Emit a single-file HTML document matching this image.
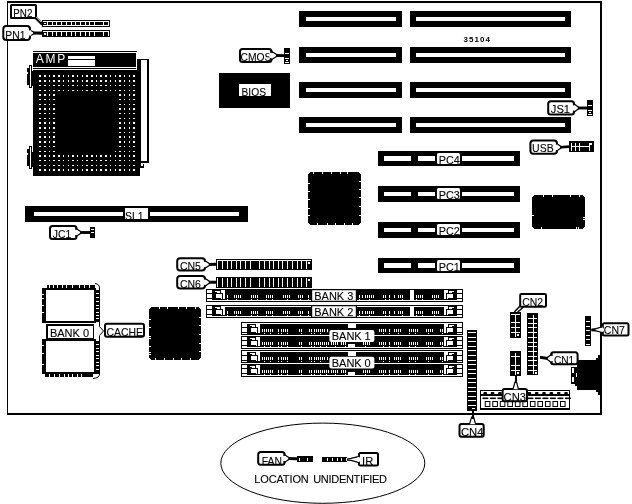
<!DOCTYPE html>
<html><head><meta charset="utf-8"><title>35104 motherboard layout</title>
<style>
html,body{margin:0;padding:0;background:#fff;}
body{width:632px;height:504px;overflow:hidden;}
svg{display:block;will-change:transform;filter:grayscale(1);font-family:"Liberation Sans",sans-serif;}
</style></head><body>
<svg width="632" height="504" viewBox="0 0 632 504" shape-rendering="crispEdges">
<rect x="0" y="0" width="632" height="504" fill="#fff"/>
<rect x="7" y="1" width="595" height="414" fill="#000" />
<rect x="8" y="3" width="592" height="410" fill="#fff" />
<rect x="299" y="11" width="103" height="16" fill="#000" />
<rect x="306" y="17" width="90" height="4" fill="#fff" />
<rect x="410" y="11" width="161" height="16" fill="#000" />
<rect x="416" y="17" width="149" height="4" fill="#fff" />
<rect x="299" y="47" width="103" height="16" fill="#000" />
<rect x="306" y="53" width="90" height="4" fill="#fff" />
<rect x="410" y="47" width="161" height="16" fill="#000" />
<rect x="416" y="53" width="149" height="4" fill="#fff" />
<rect x="299" y="82" width="103" height="16" fill="#000" />
<rect x="306" y="88" width="90" height="4" fill="#fff" />
<rect x="410" y="82" width="161" height="16" fill="#000" />
<rect x="416" y="88" width="149" height="4" fill="#fff" />
<rect x="299" y="117" width="103" height="16" fill="#000" />
<rect x="306" y="123" width="90" height="4" fill="#fff" />
<rect x="410" y="117" width="161" height="16" fill="#000" />
<rect x="416" y="123" width="149" height="4" fill="#fff" />
<rect x="378" y="151" width="142" height="15" fill="#000" />
<rect x="384" y="156" width="27" height="5" fill="#fff" />
<rect x="418" y="156" width="17" height="5" fill="#fff" />
<rect x="462" y="156" width="52" height="5" fill="#fff" />
<rect x="437" y="153" width="23" height="11" rx="1.5" fill="#fff" shape-rendering="geometricPrecision"/>
<text x="438.7" y="164.2" font-size="11" fill="#000" text-anchor="start" textLength="21" lengthAdjust="spacingAndGlyphs" stroke="#000" stroke-width="0.1" >PC4</text>
<rect x="437" y="164" width="23" height="2" fill="#000" />
<rect x="378" y="186" width="142" height="16" fill="#000" />
<rect x="384" y="192" width="27" height="4" fill="#fff" />
<rect x="418" y="192" width="17" height="4" fill="#fff" />
<rect x="462" y="192" width="52" height="4" fill="#fff" />
<rect x="437" y="188" width="23" height="11" rx="1.5" fill="#fff" shape-rendering="geometricPrecision"/>
<text x="438.7" y="199.2" font-size="11" fill="#000" text-anchor="start" textLength="21" lengthAdjust="spacingAndGlyphs" stroke="#000" stroke-width="0.1" >PC3</text>
<rect x="437" y="199" width="23" height="3" fill="#000" />
<rect x="378" y="222" width="142" height="16" fill="#000" />
<rect x="384" y="228" width="27" height="4" fill="#fff" />
<rect x="418" y="228" width="17" height="4" fill="#fff" />
<rect x="462" y="228" width="52" height="4" fill="#fff" />
<rect x="437" y="224" width="23" height="11" rx="1.5" fill="#fff" shape-rendering="geometricPrecision"/>
<text x="438.7" y="235.2" font-size="11" fill="#000" text-anchor="start" textLength="21" lengthAdjust="spacingAndGlyphs" stroke="#000" stroke-width="0.1" >PC2</text>
<rect x="437" y="235" width="23" height="3" fill="#000" />
<rect x="378" y="258" width="142" height="15" fill="#000" />
<rect x="384" y="263" width="27" height="5" fill="#fff" />
<rect x="418" y="263" width="17" height="5" fill="#fff" />
<rect x="462" y="263" width="52" height="5" fill="#fff" />
<rect x="437" y="260" width="23" height="11" rx="1.5" fill="#fff" shape-rendering="geometricPrecision"/>
<text x="438.7" y="271.2" font-size="11" fill="#000" text-anchor="start" textLength="21" lengthAdjust="spacingAndGlyphs" stroke="#000" stroke-width="0.1" >PC1</text>
<rect x="437" y="271" width="23" height="2" fill="#000" />
<rect x="25" y="206" width="223" height="16" fill="#000" />
<rect x="34" y="211.5" width="89" height="4.5" fill="#fff" />
<rect x="150" y="211.5" width="89" height="4.5" fill="#fff" />
<rect x="124.5" y="208" width="23" height="10.7" fill="#fff" />
<text x="125" y="219.8" font-size="11" fill="#000" text-anchor="start" textLength="18.5" lengthAdjust="spacingAndGlyphs" stroke="#000" stroke-width="0.1" >SL1</text>
<rect x="124" y="218.7" width="24" height="3.3" fill="#000" />
<rect x="310" y="172" width="49" height="53" fill="#000" />
<rect x="308" y="174" width="53" height="49" fill="#000" />
<rect x="309" y="173" width="51" height="51" fill="#000" />
<rect x="313" y="172" width="1" height="2" fill="#fff" />
<rect x="322" y="172" width="1" height="2" fill="#fff" />
<rect x="331" y="172" width="1" height="2" fill="#fff" />
<rect x="340" y="172" width="1" height="2" fill="#fff" />
<rect x="347" y="172" width="1" height="2" fill="#fff" />
<rect x="317" y="223" width="1" height="2" fill="#fff" />
<rect x="327" y="223" width="1" height="2" fill="#fff" />
<rect x="335" y="223" width="1" height="2" fill="#fff" />
<rect x="344" y="223" width="1" height="2" fill="#fff" />
<rect x="352" y="223" width="1" height="2" fill="#fff" />
<rect x="308" y="183" width="2" height="1" fill="#fff" />
<rect x="308" y="191" width="2" height="1" fill="#fff" />
<rect x="308" y="199" width="2" height="1" fill="#fff" />
<rect x="308" y="208" width="2" height="1" fill="#fff" />
<rect x="308" y="215" width="2" height="1" fill="#fff" />
<rect x="359" y="181" width="2" height="1" fill="#fff" />
<rect x="359" y="189" width="2" height="1" fill="#fff" />
<rect x="359" y="197" width="2" height="1" fill="#fff" />
<rect x="359" y="206" width="2" height="1" fill="#fff" />
<rect x="359" y="215" width="2" height="1" fill="#fff" />
<rect x="534" y="195" width="49" height="34" fill="#000" />
<rect x="532" y="197" width="53" height="30" fill="#000" />
<rect x="533" y="196" width="51" height="32" fill="#000" />
<rect x="543" y="195" width="1" height="2" fill="#fff" />
<rect x="552" y="195" width="1" height="2" fill="#fff" />
<rect x="570" y="195" width="1" height="2" fill="#fff" />
<rect x="579" y="195" width="1" height="2" fill="#fff" />
<rect x="541" y="227" width="1" height="2" fill="#fff" />
<rect x="576" y="227" width="1" height="2" fill="#fff" />
<rect x="578" y="227" width="1" height="2" fill="#fff" />
<rect x="532" y="215" width="2" height="1" fill="#fff" />
<rect x="583" y="217" width="2" height="1" fill="#fff" />
<rect x="583" y="219" width="2" height="1" fill="#fff" />
<rect x="151" y="307" width="48" height="53" fill="#000" />
<rect x="149" y="309" width="52" height="49" fill="#000" />
<rect x="150" y="308" width="50" height="51" fill="#000" />
<rect x="159" y="307" width="1" height="2" fill="#fff" />
<rect x="167" y="307" width="1" height="2" fill="#fff" />
<rect x="178" y="307" width="1" height="2" fill="#fff" />
<rect x="186" y="307" width="1" height="2" fill="#fff" />
<rect x="195" y="307" width="1" height="2" fill="#fff" />
<rect x="155" y="358" width="1" height="2" fill="#fff" />
<rect x="164" y="358" width="1" height="2" fill="#fff" />
<rect x="173" y="358" width="1" height="2" fill="#fff" />
<rect x="181" y="358" width="1" height="2" fill="#fff" />
<rect x="190" y="358" width="1" height="2" fill="#fff" />
<rect x="149" y="319" width="2" height="1" fill="#fff" />
<rect x="149" y="327" width="2" height="1" fill="#fff" />
<rect x="149" y="336" width="2" height="1" fill="#fff" />
<rect x="149" y="338" width="2" height="1" fill="#fff" />
<rect x="149" y="346" width="2" height="1" fill="#fff" />
<rect x="149" y="352" width="2" height="1" fill="#fff" />
<rect x="149" y="354" width="2" height="1" fill="#fff" />
<rect x="199" y="317" width="2" height="1" fill="#fff" />
<rect x="199" y="325" width="2" height="1" fill="#fff" />
<rect x="199" y="334" width="2" height="1" fill="#fff" />
<rect x="199" y="343" width="2" height="1" fill="#fff" />
<rect x="199" y="351" width="2" height="1" fill="#fff" />
<rect x="219" y="73" width="71" height="35" fill="#000" />
<rect x="239" y="84" width="32" height="12.2" fill="#fff" />
<text x="241.5" y="96.4" font-size="11" fill="#000" text-anchor="start" textLength="24.5" lengthAdjust="spacingAndGlyphs" stroke="#000" stroke-width="0.1" >BIOS</text>
<rect x="239" y="96.2" width="32" height="2.8" fill="#000" />
<rect x="33" y="51" width="104" height="1" fill="#000" />
<rect x="33" y="53" width="103" height="13.5" fill="#000" />
<rect x="33" y="67.5" width="103" height="1.5" fill="#000" />
<rect x="33" y="70" width="107" height="105.5" fill="#000" />
<rect x="137" y="59" width="12" height="104" fill="#000" />
<rect x="141" y="60" width="6" height="101" fill="#fff" />
<rect x="140" y="163" width="5" height="5" fill="#000" />
<rect x="141" y="163" width="2" height="3" fill="#fff" />
<rect x="143" y="163" width="2" height="1" fill="#fff" />
<rect x="144" y="164" width="1" height="4" fill="#fff" />
<text x="35.8" y="63.2" font-size="12" fill="#fff" text-anchor="start" textLength="29.4" lengthAdjust="spacing">AMP</text>
<rect x="68" y="56" width="26.5" height="2.75" fill="#fff" />
<rect x="68" y="60" width="27" height="5.5" fill="#fff" />
<rect x="39" y="75" width="2" height="2" fill="#fff" />
<rect x="39" y="80" width="2" height="2" fill="#fff" />
<rect x="39" y="85" width="2" height="1" fill="#fff" />
<rect x="39" y="90" width="2" height="1" fill="#fff" />
<rect x="39" y="94" width="2" height="2" fill="#fff" />
<rect x="39" y="99" width="2" height="1" fill="#fff" />
<rect x="39" y="104" width="2" height="1" fill="#fff" />
<rect x="39" y="108" width="2" height="2" fill="#fff" />
<rect x="39" y="113" width="2" height="1" fill="#fff" />
<rect x="39" y="118" width="2" height="1" fill="#fff" />
<rect x="39" y="122" width="2" height="2" fill="#fff" />
<rect x="39" y="127" width="2" height="2" fill="#fff" />
<rect x="39" y="132" width="2" height="1" fill="#fff" />
<rect x="39" y="136" width="2" height="2" fill="#fff" />
<rect x="39" y="141" width="2" height="2" fill="#fff" />
<rect x="39" y="146" width="2" height="1" fill="#fff" />
<rect x="39" y="151" width="2" height="1" fill="#fff" />
<rect x="39" y="155" width="2" height="2" fill="#fff" />
<rect x="39" y="160" width="2" height="1" fill="#fff" />
<rect x="39" y="165" width="2" height="1" fill="#fff" />
<rect x="39" y="169" width="2" height="2" fill="#fff" />
<rect x="44" y="75" width="2" height="2" fill="#fff" />
<rect x="44" y="80" width="2" height="2" fill="#fff" />
<rect x="44" y="85" width="2" height="1" fill="#fff" />
<rect x="44" y="90" width="2" height="1" fill="#fff" />
<rect x="44" y="94" width="2" height="2" fill="#fff" />
<rect x="44" y="99" width="2" height="1" fill="#fff" />
<rect x="44" y="104" width="2" height="1" fill="#fff" />
<rect x="44" y="108" width="2" height="2" fill="#fff" />
<rect x="44" y="113" width="2" height="1" fill="#fff" />
<rect x="44" y="118" width="2" height="1" fill="#fff" />
<rect x="44" y="122" width="2" height="2" fill="#fff" />
<rect x="44" y="127" width="2" height="2" fill="#fff" />
<rect x="44" y="132" width="2" height="1" fill="#fff" />
<rect x="44" y="136" width="2" height="2" fill="#fff" />
<rect x="44" y="141" width="2" height="2" fill="#fff" />
<rect x="44" y="146" width="2" height="1" fill="#fff" />
<rect x="44" y="151" width="2" height="1" fill="#fff" />
<rect x="44" y="155" width="2" height="2" fill="#fff" />
<rect x="44" y="160" width="2" height="1" fill="#fff" />
<rect x="44" y="165" width="2" height="1" fill="#fff" />
<rect x="44" y="169" width="2" height="2" fill="#fff" />
<rect x="49" y="75" width="1" height="2" fill="#fff" />
<rect x="49" y="80" width="1" height="2" fill="#fff" />
<rect x="49" y="85" width="1" height="1" fill="#fff" />
<rect x="49" y="90" width="1" height="1" fill="#fff" />
<rect x="49" y="94" width="1" height="2" fill="#fff" />
<rect x="49" y="99" width="1" height="1" fill="#fff" />
<rect x="49" y="104" width="1" height="1" fill="#fff" />
<rect x="49" y="108" width="1" height="2" fill="#fff" />
<rect x="49" y="113" width="1" height="1" fill="#fff" />
<rect x="49" y="118" width="1" height="1" fill="#fff" />
<rect x="49" y="122" width="1" height="2" fill="#fff" />
<rect x="49" y="127" width="1" height="2" fill="#fff" />
<rect x="49" y="132" width="1" height="1" fill="#fff" />
<rect x="49" y="136" width="1" height="2" fill="#fff" />
<rect x="49" y="141" width="1" height="2" fill="#fff" />
<rect x="49" y="146" width="1" height="1" fill="#fff" />
<rect x="49" y="151" width="1" height="1" fill="#fff" />
<rect x="49" y="155" width="1" height="2" fill="#fff" />
<rect x="49" y="160" width="1" height="1" fill="#fff" />
<rect x="49" y="165" width="1" height="1" fill="#fff" />
<rect x="49" y="169" width="1" height="2" fill="#fff" />
<rect x="53" y="75" width="2" height="2" fill="#fff" />
<rect x="53" y="80" width="2" height="2" fill="#fff" />
<rect x="53" y="85" width="2" height="1" fill="#fff" />
<rect x="53" y="90" width="2" height="1" fill="#fff" />
<rect x="53" y="94" width="2" height="2" fill="#fff" />
<rect x="53" y="99" width="2" height="1" fill="#fff" />
<rect x="53" y="104" width="2" height="1" fill="#fff" />
<rect x="53" y="108" width="2" height="2" fill="#fff" />
<rect x="53" y="113" width="2" height="1" fill="#fff" />
<rect x="53" y="118" width="2" height="1" fill="#fff" />
<rect x="53" y="122" width="2" height="2" fill="#fff" />
<rect x="53" y="127" width="2" height="2" fill="#fff" />
<rect x="53" y="132" width="2" height="1" fill="#fff" />
<rect x="53" y="136" width="2" height="2" fill="#fff" />
<rect x="53" y="141" width="2" height="2" fill="#fff" />
<rect x="53" y="146" width="2" height="1" fill="#fff" />
<rect x="53" y="151" width="2" height="1" fill="#fff" />
<rect x="53" y="155" width="2" height="2" fill="#fff" />
<rect x="53" y="160" width="2" height="1" fill="#fff" />
<rect x="53" y="165" width="2" height="1" fill="#fff" />
<rect x="53" y="169" width="2" height="2" fill="#fff" />
<rect x="58" y="75" width="2" height="2" fill="#fff" />
<rect x="58" y="80" width="2" height="2" fill="#fff" />
<rect x="58" y="85" width="2" height="1" fill="#fff" />
<rect x="58" y="90" width="2" height="1" fill="#fff" />
<rect x="58" y="155" width="2" height="2" fill="#fff" />
<rect x="58" y="160" width="2" height="1" fill="#fff" />
<rect x="58" y="165" width="2" height="1" fill="#fff" />
<rect x="58" y="169" width="2" height="2" fill="#fff" />
<rect x="63" y="75" width="1" height="2" fill="#fff" />
<rect x="63" y="80" width="1" height="2" fill="#fff" />
<rect x="63" y="85" width="1" height="1" fill="#fff" />
<rect x="63" y="90" width="1" height="1" fill="#fff" />
<rect x="63" y="155" width="1" height="2" fill="#fff" />
<rect x="63" y="160" width="1" height="1" fill="#fff" />
<rect x="63" y="165" width="1" height="1" fill="#fff" />
<rect x="63" y="169" width="1" height="2" fill="#fff" />
<rect x="68" y="75" width="1" height="2" fill="#fff" />
<rect x="68" y="80" width="1" height="2" fill="#fff" />
<rect x="68" y="85" width="1" height="1" fill="#fff" />
<rect x="68" y="90" width="1" height="1" fill="#fff" />
<rect x="68" y="155" width="1" height="2" fill="#fff" />
<rect x="68" y="160" width="1" height="1" fill="#fff" />
<rect x="68" y="165" width="1" height="1" fill="#fff" />
<rect x="68" y="169" width="1" height="2" fill="#fff" />
<rect x="72" y="75" width="2" height="2" fill="#fff" />
<rect x="72" y="80" width="2" height="2" fill="#fff" />
<rect x="72" y="85" width="2" height="1" fill="#fff" />
<rect x="72" y="90" width="2" height="1" fill="#fff" />
<rect x="72" y="155" width="2" height="2" fill="#fff" />
<rect x="72" y="160" width="2" height="1" fill="#fff" />
<rect x="72" y="165" width="2" height="1" fill="#fff" />
<rect x="72" y="169" width="2" height="2" fill="#fff" />
<rect x="77" y="75" width="1" height="2" fill="#fff" />
<rect x="77" y="80" width="1" height="2" fill="#fff" />
<rect x="77" y="85" width="1" height="1" fill="#fff" />
<rect x="77" y="90" width="1" height="1" fill="#fff" />
<rect x="77" y="155" width="1" height="2" fill="#fff" />
<rect x="77" y="160" width="1" height="1" fill="#fff" />
<rect x="77" y="165" width="1" height="1" fill="#fff" />
<rect x="77" y="169" width="1" height="2" fill="#fff" />
<rect x="82" y="75" width="1" height="2" fill="#fff" />
<rect x="82" y="80" width="1" height="2" fill="#fff" />
<rect x="82" y="85" width="1" height="1" fill="#fff" />
<rect x="82" y="90" width="1" height="1" fill="#fff" />
<rect x="82" y="155" width="1" height="2" fill="#fff" />
<rect x="82" y="160" width="1" height="1" fill="#fff" />
<rect x="82" y="165" width="1" height="1" fill="#fff" />
<rect x="82" y="169" width="1" height="2" fill="#fff" />
<rect x="86" y="75" width="2" height="2" fill="#fff" />
<rect x="86" y="80" width="2" height="2" fill="#fff" />
<rect x="86" y="85" width="2" height="1" fill="#fff" />
<rect x="86" y="90" width="2" height="1" fill="#fff" />
<rect x="86" y="155" width="2" height="2" fill="#fff" />
<rect x="86" y="160" width="2" height="1" fill="#fff" />
<rect x="86" y="165" width="2" height="1" fill="#fff" />
<rect x="86" y="169" width="2" height="2" fill="#fff" />
<rect x="91" y="75" width="2" height="2" fill="#fff" />
<rect x="91" y="80" width="2" height="2" fill="#fff" />
<rect x="91" y="85" width="2" height="1" fill="#fff" />
<rect x="91" y="90" width="2" height="1" fill="#fff" />
<rect x="91" y="155" width="2" height="2" fill="#fff" />
<rect x="91" y="160" width="2" height="1" fill="#fff" />
<rect x="91" y="165" width="2" height="1" fill="#fff" />
<rect x="91" y="169" width="2" height="2" fill="#fff" />
<rect x="96" y="75" width="1" height="2" fill="#fff" />
<rect x="96" y="80" width="1" height="2" fill="#fff" />
<rect x="96" y="85" width="1" height="1" fill="#fff" />
<rect x="96" y="90" width="1" height="1" fill="#fff" />
<rect x="96" y="155" width="1" height="2" fill="#fff" />
<rect x="96" y="160" width="1" height="1" fill="#fff" />
<rect x="96" y="165" width="1" height="1" fill="#fff" />
<rect x="96" y="169" width="1" height="2" fill="#fff" />
<rect x="100" y="75" width="2" height="2" fill="#fff" />
<rect x="100" y="80" width="2" height="2" fill="#fff" />
<rect x="100" y="85" width="2" height="1" fill="#fff" />
<rect x="100" y="90" width="2" height="1" fill="#fff" />
<rect x="100" y="155" width="2" height="2" fill="#fff" />
<rect x="100" y="160" width="2" height="1" fill="#fff" />
<rect x="100" y="165" width="2" height="1" fill="#fff" />
<rect x="100" y="169" width="2" height="2" fill="#fff" />
<rect x="105" y="75" width="2" height="2" fill="#fff" />
<rect x="105" y="80" width="2" height="2" fill="#fff" />
<rect x="105" y="85" width="2" height="1" fill="#fff" />
<rect x="105" y="90" width="2" height="1" fill="#fff" />
<rect x="105" y="155" width="2" height="2" fill="#fff" />
<rect x="105" y="160" width="2" height="1" fill="#fff" />
<rect x="105" y="165" width="2" height="1" fill="#fff" />
<rect x="105" y="169" width="2" height="2" fill="#fff" />
<rect x="110" y="75" width="1" height="2" fill="#fff" />
<rect x="110" y="80" width="1" height="2" fill="#fff" />
<rect x="110" y="85" width="1" height="1" fill="#fff" />
<rect x="110" y="90" width="1" height="1" fill="#fff" />
<rect x="110" y="155" width="1" height="2" fill="#fff" />
<rect x="110" y="160" width="1" height="1" fill="#fff" />
<rect x="110" y="165" width="1" height="1" fill="#fff" />
<rect x="110" y="169" width="1" height="2" fill="#fff" />
<rect x="115" y="75" width="1" height="2" fill="#fff" />
<rect x="115" y="80" width="1" height="2" fill="#fff" />
<rect x="115" y="85" width="1" height="1" fill="#fff" />
<rect x="115" y="90" width="1" height="1" fill="#fff" />
<rect x="115" y="151" width="1" height="1" fill="#fff" />
<rect x="115" y="155" width="1" height="2" fill="#fff" />
<rect x="115" y="160" width="1" height="1" fill="#fff" />
<rect x="115" y="165" width="1" height="1" fill="#fff" />
<rect x="115" y="169" width="1" height="2" fill="#fff" />
<rect x="119" y="75" width="2" height="2" fill="#fff" />
<rect x="119" y="80" width="2" height="2" fill="#fff" />
<rect x="119" y="85" width="2" height="1" fill="#fff" />
<rect x="119" y="90" width="2" height="1" fill="#fff" />
<rect x="119" y="94" width="2" height="2" fill="#fff" />
<rect x="119" y="99" width="2" height="1" fill="#fff" />
<rect x="119" y="104" width="2" height="1" fill="#fff" />
<rect x="119" y="108" width="2" height="2" fill="#fff" />
<rect x="119" y="113" width="2" height="1" fill="#fff" />
<rect x="119" y="118" width="2" height="1" fill="#fff" />
<rect x="119" y="122" width="2" height="2" fill="#fff" />
<rect x="119" y="127" width="2" height="2" fill="#fff" />
<rect x="119" y="132" width="2" height="1" fill="#fff" />
<rect x="119" y="136" width="2" height="2" fill="#fff" />
<rect x="119" y="141" width="2" height="2" fill="#fff" />
<rect x="119" y="146" width="2" height="1" fill="#fff" />
<rect x="119" y="151" width="2" height="1" fill="#fff" />
<rect x="119" y="155" width="2" height="2" fill="#fff" />
<rect x="119" y="160" width="2" height="1" fill="#fff" />
<rect x="119" y="165" width="2" height="1" fill="#fff" />
<rect x="119" y="169" width="2" height="2" fill="#fff" />
<rect x="124" y="75" width="1" height="2" fill="#fff" />
<rect x="124" y="80" width="1" height="2" fill="#fff" />
<rect x="124" y="85" width="1" height="1" fill="#fff" />
<rect x="124" y="90" width="1" height="1" fill="#fff" />
<rect x="124" y="94" width="1" height="2" fill="#fff" />
<rect x="124" y="99" width="1" height="1" fill="#fff" />
<rect x="124" y="104" width="1" height="1" fill="#fff" />
<rect x="124" y="108" width="1" height="2" fill="#fff" />
<rect x="124" y="113" width="1" height="1" fill="#fff" />
<rect x="124" y="118" width="1" height="1" fill="#fff" />
<rect x="124" y="122" width="1" height="2" fill="#fff" />
<rect x="124" y="127" width="1" height="2" fill="#fff" />
<rect x="124" y="132" width="1" height="1" fill="#fff" />
<rect x="124" y="136" width="1" height="2" fill="#fff" />
<rect x="124" y="141" width="1" height="2" fill="#fff" />
<rect x="124" y="146" width="1" height="1" fill="#fff" />
<rect x="124" y="151" width="1" height="1" fill="#fff" />
<rect x="124" y="155" width="1" height="2" fill="#fff" />
<rect x="124" y="160" width="1" height="1" fill="#fff" />
<rect x="124" y="165" width="1" height="1" fill="#fff" />
<rect x="124" y="169" width="1" height="2" fill="#fff" />
<rect x="129" y="75" width="1" height="2" fill="#fff" />
<rect x="129" y="80" width="1" height="2" fill="#fff" />
<rect x="129" y="85" width="1" height="1" fill="#fff" />
<rect x="129" y="90" width="1" height="1" fill="#fff" />
<rect x="129" y="94" width="1" height="2" fill="#fff" />
<rect x="129" y="99" width="1" height="1" fill="#fff" />
<rect x="129" y="104" width="1" height="1" fill="#fff" />
<rect x="129" y="108" width="1" height="2" fill="#fff" />
<rect x="129" y="113" width="1" height="1" fill="#fff" />
<rect x="129" y="118" width="1" height="1" fill="#fff" />
<rect x="129" y="122" width="1" height="2" fill="#fff" />
<rect x="129" y="127" width="1" height="2" fill="#fff" />
<rect x="129" y="132" width="1" height="1" fill="#fff" />
<rect x="129" y="136" width="1" height="2" fill="#fff" />
<rect x="129" y="141" width="1" height="2" fill="#fff" />
<rect x="129" y="146" width="1" height="1" fill="#fff" />
<rect x="129" y="151" width="1" height="1" fill="#fff" />
<rect x="129" y="155" width="1" height="2" fill="#fff" />
<rect x="129" y="160" width="1" height="1" fill="#fff" />
<rect x="129" y="165" width="1" height="1" fill="#fff" />
<rect x="129" y="169" width="1" height="2" fill="#fff" />
<rect x="133" y="75" width="2" height="2" fill="#fff" />
<rect x="133" y="80" width="2" height="2" fill="#fff" />
<rect x="133" y="85" width="2" height="1" fill="#fff" />
<rect x="133" y="90" width="2" height="1" fill="#fff" />
<rect x="133" y="94" width="2" height="2" fill="#fff" />
<rect x="133" y="99" width="2" height="1" fill="#fff" />
<rect x="133" y="104" width="2" height="1" fill="#fff" />
<rect x="133" y="108" width="2" height="2" fill="#fff" />
<rect x="133" y="113" width="2" height="1" fill="#fff" />
<rect x="133" y="118" width="2" height="1" fill="#fff" />
<rect x="133" y="122" width="2" height="2" fill="#fff" />
<rect x="133" y="127" width="2" height="2" fill="#fff" />
<rect x="133" y="132" width="2" height="1" fill="#fff" />
<rect x="133" y="136" width="2" height="2" fill="#fff" />
<rect x="133" y="141" width="2" height="2" fill="#fff" />
<rect x="133" y="146" width="2" height="1" fill="#fff" />
<rect x="133" y="151" width="2" height="1" fill="#fff" />
<rect x="133" y="155" width="2" height="2" fill="#fff" />
<rect x="133" y="160" width="2" height="1" fill="#fff" />
<rect x="133" y="165" width="2" height="1" fill="#fff" />
<rect x="133" y="169" width="2" height="2" fill="#fff" />
<rect x="29" y="65" width="3" height="23" fill="#000" />
<rect x="30" y="66" width="1" height="21" fill="#fff" />
<rect x="27" y="68" width="2" height="17" fill="#000" />
<rect x="27" y="72" width="1" height="2" fill="#fff" />
<rect x="32" y="71" width="1" height="15" fill="#000" />
<rect x="29" y="146" width="3" height="23" fill="#000" />
<rect x="30" y="147" width="1" height="21" fill="#fff" />
<rect x="27" y="149" width="2" height="17" fill="#000" />
<rect x="27" y="153" width="1" height="2" fill="#fff" />
<rect x="32" y="152" width="1" height="15" fill="#000" />
<rect x="42" y="20" width="68" height="7" fill="#000" />
<rect x="43" y="21" width="66" height="5" fill="#fff" />
<rect x="43" y="22" width="66" height="3" fill="#000" />
<rect x="42" y="30" width="68" height="7" fill="#000" />
<rect x="43" y="31" width="66" height="1" fill="#fff" />
<rect x="47" y="21" width="1" height="5" fill="#fff" />
<rect x="47" y="31" width="1" height="5" fill="#fff" />
<rect x="51.7" y="21" width="1" height="5" fill="#fff" />
<rect x="51.7" y="31" width="1" height="5" fill="#fff" />
<rect x="56.4" y="21" width="1" height="5" fill="#fff" />
<rect x="56.4" y="31" width="1" height="5" fill="#fff" />
<rect x="61.1" y="21" width="1" height="5" fill="#fff" />
<rect x="61.1" y="31" width="1" height="5" fill="#fff" />
<rect x="65.8" y="21" width="1" height="5" fill="#fff" />
<rect x="65.8" y="31" width="1" height="5" fill="#fff" />
<rect x="70.5" y="21" width="1" height="5" fill="#fff" />
<rect x="70.5" y="31" width="1" height="5" fill="#fff" />
<rect x="75.2" y="21" width="1" height="5" fill="#fff" />
<rect x="75.2" y="31" width="1" height="5" fill="#fff" />
<rect x="79.9" y="21" width="1" height="5" fill="#fff" />
<rect x="79.9" y="31" width="1" height="5" fill="#fff" />
<rect x="84.6" y="21" width="1" height="5" fill="#fff" />
<rect x="84.6" y="31" width="1" height="5" fill="#fff" />
<rect x="89.3" y="21" width="1" height="5" fill="#fff" />
<rect x="89.3" y="31" width="1" height="5" fill="#fff" />
<rect x="94" y="21" width="1" height="5" fill="#fff" />
<rect x="94" y="31" width="1" height="5" fill="#fff" />
<rect x="103.4" y="21" width="1" height="5" fill="#fff" />
<rect x="103.4" y="31" width="1" height="5" fill="#fff" />
<rect x="108" y="21" width="1" height="5" fill="#fff" />
<rect x="108" y="31" width="1" height="5" fill="#fff" />
<rect x="44" y="23" width="2" height="1" fill="#fff" />
<rect x="44" y="33" width="2" height="2" fill="#fff" />
<rect x="11" y="5" width="25" height="13" rx="0.5" fill="#fff" stroke="#000" stroke-width="2" shape-rendering="geometricPrecision"/>
<text x="13.3" y="17" font-size="11" fill="#000" text-anchor="start" textLength="19.15" lengthAdjust="spacingAndGlyphs" stroke="#000" stroke-width="0.1" >PN2</text>
<path d="M35.5,17.5 L42.5,24.5" fill="none" stroke="#000" stroke-width="2.8" shape-rendering="geometricPrecision"/>
<path d="M35.8,16.8 L41,22" fill="none" stroke="#fff" stroke-width="0.7" shape-rendering="geometricPrecision"/>
<rect x="3.3" y="26" width="26.7" height="14" rx="3" fill="#fff" stroke="#000" stroke-width="2" shape-rendering="geometricPrecision"/>
<text x="5.3" y="39" font-size="11" fill="#000" text-anchor="start" textLength="20.1" lengthAdjust="spacingAndGlyphs" stroke="#000" stroke-width="0.1" >PN1</text>
<path d="M30,30.0 L34,32.2 L34,33.8 L30,36.0 Z" fill="#fff" stroke="#000" stroke-width="1.3" shape-rendering="geometricPrecision" stroke-linejoin="round"/>
<rect x="28.4" y="30.4" width="2.8" height="5.2" fill="#fff" shape-rendering="geometricPrecision"/>
<path d="M33.2,33.0 L42.5,33.1" fill="none" stroke="#000" stroke-width="3.2" shape-rendering="geometricPrecision"/>
<rect x="216" y="259" width="96" height="11" fill="#000" />
<rect x="217" y="260" width="94" height="1" fill="#fff" />
<rect x="216" y="277" width="96" height="11" fill="#000" />
<rect x="217" y="260" width="1" height="9" fill="#fff" />
<rect x="217" y="278" width="1" height="9" fill="#fff" />
<rect x="222" y="260" width="1" height="9" fill="#fff" />
<rect x="222" y="278" width="1" height="9" fill="#fff" />
<rect x="227" y="260" width="1" height="9" fill="#fff" />
<rect x="227" y="278" width="1" height="9" fill="#fff" />
<rect x="231" y="260" width="1" height="9" fill="#fff" />
<rect x="231" y="278" width="1" height="9" fill="#fff" />
<rect x="236" y="260" width="1" height="9" fill="#fff" />
<rect x="236" y="278" width="1" height="9" fill="#fff" />
<rect x="240" y="260" width="1" height="9" fill="#fff" />
<rect x="240" y="278" width="1" height="9" fill="#fff" />
<rect x="245" y="260" width="1" height="9" fill="#fff" />
<rect x="245" y="278" width="1" height="9" fill="#fff" />
<rect x="250" y="260" width="1" height="9" fill="#fff" />
<rect x="250" y="278" width="1" height="9" fill="#fff" />
<rect x="259" y="260" width="1" height="9" fill="#fff" />
<rect x="259" y="278" width="1" height="9" fill="#fff" />
<rect x="264" y="260" width="1" height="9" fill="#fff" />
<rect x="264" y="278" width="1" height="9" fill="#fff" />
<rect x="269" y="260" width="1" height="9" fill="#fff" />
<rect x="269" y="278" width="1" height="9" fill="#fff" />
<rect x="273" y="260" width="1" height="9" fill="#fff" />
<rect x="273" y="278" width="1" height="9" fill="#fff" />
<rect x="278" y="260" width="1" height="9" fill="#fff" />
<rect x="278" y="278" width="1" height="9" fill="#fff" />
<rect x="282" y="260" width="1" height="9" fill="#fff" />
<rect x="282" y="278" width="1" height="9" fill="#fff" />
<rect x="287" y="260" width="1" height="9" fill="#fff" />
<rect x="287" y="278" width="1" height="9" fill="#fff" />
<rect x="292" y="260" width="1" height="9" fill="#fff" />
<rect x="292" y="278" width="1" height="9" fill="#fff" />
<rect x="297" y="260" width="1" height="9" fill="#fff" />
<rect x="297" y="278" width="1" height="9" fill="#fff" />
<rect x="301" y="260" width="1" height="9" fill="#fff" />
<rect x="301" y="278" width="1" height="9" fill="#fff" />
<rect x="306" y="260" width="1" height="9" fill="#fff" />
<rect x="306" y="278" width="1" height="9" fill="#fff" />
<rect x="308" y="262" width="2" height="2" fill="#fff" />
<rect x="308" y="279" width="2" height="2" fill="#fff" />
<rect x="177.2" y="258.2" width="27.8" height="12.3" rx="3" fill="#fff" stroke="#000" stroke-width="2" shape-rendering="geometricPrecision"/>
<text x="179.9" y="270" font-size="11" fill="#000" text-anchor="start" textLength="21" lengthAdjust="spacingAndGlyphs" stroke="#000" stroke-width="0.1" >CN5</text>
<rect x="177.2" y="276" width="27.8" height="12.4" rx="3" fill="#fff" stroke="#000" stroke-width="2" shape-rendering="geometricPrecision"/>
<text x="179.9" y="287.7" font-size="11" fill="#000" text-anchor="start" textLength="21" lengthAdjust="spacingAndGlyphs" stroke="#000" stroke-width="0.1" >CN6</text>
<path d="M204.6,260.5 L209.6,263.7 L209.6,265.3 L204.6,268.5 Z" fill="#fff" stroke="#000" stroke-width="1.3" shape-rendering="geometricPrecision" stroke-linejoin="round"/>
<rect x="203" y="261.9" width="2.8" height="5.2" fill="#fff" shape-rendering="geometricPrecision"/>
<path d="M208.79999999999998,264.5 L216.5,264.2" fill="none" stroke="#000" stroke-width="3" shape-rendering="geometricPrecision"/>
<path d="M204.6,278.0 L209.6,281.45 L209.6,283.05 L204.6,286.5 Z" fill="#fff" stroke="#000" stroke-width="1.3" shape-rendering="geometricPrecision" stroke-linejoin="round"/>
<rect x="203" y="279.65" width="2.8" height="5.2" fill="#fff" shape-rendering="geometricPrecision"/>
<path d="M208.79999999999998,282.25 L216.5,282.2" fill="none" stroke="#000" stroke-width="3" shape-rendering="geometricPrecision"/>
<rect x="206" y="289" width="257" height="13" fill="#000" />
<rect x="207" y="300" width="255" height="1" fill="#fff" />
<rect x="207" y="290" width="5" height="3" fill="#fff" />
<rect x="207" y="294" width="5" height="4" fill="#fff" />
<rect x="207" y="299" width="5" height="1" fill="#fff" />
<rect x="221" y="290" width="4" height="9" fill="#fff" />
<rect x="215" y="291" width="5" height="2" fill="#fff" />
<rect x="215" y="292" width="2" height="1" fill="#000" />
<rect x="215" y="293" width="8" height="1" fill="#000" />
<rect x="216" y="294" width="6" height="4" fill="#fff" />
<rect x="222" y="293" width="1" height="6" fill="#000" />
<rect x="457" y="290" width="5" height="3" fill="#fff" />
<rect x="457" y="294" width="5" height="4" fill="#fff" />
<rect x="457" y="299" width="5" height="1" fill="#fff" />
<rect x="444" y="290" width="4" height="9" fill="#fff" />
<rect x="449" y="291" width="5" height="2" fill="#fff" />
<rect x="452" y="292" width="2" height="1" fill="#000" />
<rect x="446" y="293" width="8" height="1" fill="#000" />
<rect x="447" y="294" width="6" height="4" fill="#fff" />
<rect x="446" y="293" width="1" height="6" fill="#000" />
<rect x="410" y="290" width="4" height="10" fill="#fff" />
<rect x="227" y="295" width="1" height="3" fill="#fff" />
<rect x="227" y="299" width="1" height="1" fill="#fff" />
<rect x="234" y="295" width="1" height="3" fill="#fff" />
<rect x="236" y="295" width="1" height="3" fill="#fff" />
<rect x="236" y="299" width="1" height="1" fill="#fff" />
<rect x="238" y="295" width="1" height="3" fill="#fff" />
<rect x="240" y="295" width="1" height="3" fill="#fff" />
<rect x="251" y="295" width="1" height="3" fill="#fff" />
<rect x="251" y="299" width="1" height="1" fill="#fff" />
<rect x="253" y="295" width="1" height="3" fill="#fff" />
<rect x="255" y="295" width="1" height="3" fill="#fff" />
<rect x="257" y="295" width="1" height="3" fill="#fff" />
<rect x="257" y="299" width="1" height="1" fill="#fff" />
<rect x="266" y="295" width="1" height="3" fill="#fff" />
<rect x="266" y="299" width="1" height="1" fill="#fff" />
<rect x="268" y="295" width="1" height="3" fill="#fff" />
<rect x="270" y="295" width="1" height="3" fill="#fff" />
<rect x="272" y="295" width="1" height="3" fill="#fff" />
<rect x="272" y="299" width="1" height="1" fill="#fff" />
<rect x="283" y="295" width="1" height="3" fill="#fff" />
<rect x="285" y="295" width="1" height="3" fill="#fff" />
<rect x="287" y="295" width="1" height="3" fill="#fff" />
<rect x="287" y="299" width="1" height="1" fill="#fff" />
<rect x="289" y="295" width="1" height="3" fill="#fff" />
<rect x="298" y="295" width="1" height="3" fill="#fff" />
<rect x="300" y="295" width="1" height="3" fill="#fff" />
<rect x="300" y="299" width="1" height="1" fill="#fff" />
<rect x="302" y="295" width="1" height="3" fill="#fff" />
<rect x="308" y="295" width="1" height="3" fill="#fff" />
<rect x="308" y="299" width="1" height="1" fill="#fff" />
<rect x="359" y="295" width="1" height="3" fill="#fff" />
<rect x="359" y="299" width="1" height="1" fill="#fff" />
<rect x="362" y="295" width="1" height="3" fill="#fff" />
<rect x="365" y="295" width="1" height="3" fill="#fff" />
<rect x="367" y="295" width="1" height="3" fill="#fff" />
<rect x="369" y="295" width="1" height="3" fill="#fff" />
<rect x="369" y="299" width="1" height="1" fill="#fff" />
<rect x="371" y="295" width="1" height="3" fill="#fff" />
<rect x="373" y="295" width="1" height="3" fill="#fff" />
<rect x="383" y="295" width="1" height="3" fill="#fff" />
<rect x="385" y="295" width="1" height="3" fill="#fff" />
<rect x="385" y="299" width="1" height="1" fill="#fff" />
<rect x="389" y="295" width="1" height="3" fill="#fff" />
<rect x="389" y="299" width="1" height="1" fill="#fff" />
<rect x="394" y="295" width="1" height="3" fill="#fff" />
<rect x="398" y="295" width="1" height="3" fill="#fff" />
<rect x="400" y="295" width="1" height="3" fill="#fff" />
<rect x="402" y="295" width="1" height="3" fill="#fff" />
<rect x="402" y="299" width="1" height="1" fill="#fff" />
<rect x="416" y="295" width="1" height="3" fill="#fff" />
<rect x="416" y="299" width="1" height="1" fill="#fff" />
<rect x="418" y="295" width="1" height="3" fill="#fff" />
<rect x="420" y="295" width="1" height="3" fill="#fff" />
<rect x="422" y="295" width="1" height="3" fill="#fff" />
<rect x="422" y="299" width="1" height="1" fill="#fff" />
<rect x="432" y="295" width="1" height="3" fill="#fff" />
<rect x="434" y="295" width="1" height="3" fill="#fff" />
<rect x="434" y="299" width="1" height="1" fill="#fff" />
<rect x="436" y="295" width="1" height="3" fill="#fff" />
<rect x="438" y="295" width="1" height="3" fill="#fff" />
<rect x="206" y="305" width="257" height="13" fill="#000" />
<rect x="207" y="316" width="255" height="1" fill="#fff" />
<rect x="207" y="306" width="5" height="3" fill="#fff" />
<rect x="207" y="310" width="5" height="4" fill="#fff" />
<rect x="207" y="315" width="5" height="1" fill="#fff" />
<rect x="221" y="306" width="4" height="9" fill="#fff" />
<rect x="215" y="307" width="5" height="2" fill="#fff" />
<rect x="215" y="308" width="2" height="1" fill="#000" />
<rect x="215" y="309" width="8" height="1" fill="#000" />
<rect x="216" y="310" width="6" height="4" fill="#fff" />
<rect x="222" y="309" width="1" height="6" fill="#000" />
<rect x="457" y="306" width="5" height="3" fill="#fff" />
<rect x="457" y="310" width="5" height="4" fill="#fff" />
<rect x="457" y="315" width="5" height="1" fill="#fff" />
<rect x="444" y="306" width="4" height="9" fill="#fff" />
<rect x="449" y="307" width="5" height="2" fill="#fff" />
<rect x="452" y="308" width="2" height="1" fill="#000" />
<rect x="446" y="309" width="8" height="1" fill="#000" />
<rect x="447" y="310" width="6" height="4" fill="#fff" />
<rect x="446" y="309" width="1" height="6" fill="#000" />
<rect x="410" y="306" width="4" height="10" fill="#fff" />
<rect x="227" y="311" width="1" height="3" fill="#fff" />
<rect x="227" y="315" width="1" height="1" fill="#fff" />
<rect x="234" y="311" width="1" height="3" fill="#fff" />
<rect x="236" y="311" width="1" height="3" fill="#fff" />
<rect x="236" y="315" width="1" height="1" fill="#fff" />
<rect x="238" y="311" width="1" height="3" fill="#fff" />
<rect x="240" y="311" width="1" height="3" fill="#fff" />
<rect x="251" y="311" width="1" height="3" fill="#fff" />
<rect x="251" y="315" width="1" height="1" fill="#fff" />
<rect x="253" y="311" width="1" height="3" fill="#fff" />
<rect x="255" y="311" width="1" height="3" fill="#fff" />
<rect x="257" y="311" width="1" height="3" fill="#fff" />
<rect x="257" y="315" width="1" height="1" fill="#fff" />
<rect x="266" y="311" width="1" height="3" fill="#fff" />
<rect x="266" y="315" width="1" height="1" fill="#fff" />
<rect x="268" y="311" width="1" height="3" fill="#fff" />
<rect x="270" y="311" width="1" height="3" fill="#fff" />
<rect x="272" y="311" width="1" height="3" fill="#fff" />
<rect x="272" y="315" width="1" height="1" fill="#fff" />
<rect x="283" y="311" width="1" height="3" fill="#fff" />
<rect x="285" y="311" width="1" height="3" fill="#fff" />
<rect x="287" y="311" width="1" height="3" fill="#fff" />
<rect x="287" y="315" width="1" height="1" fill="#fff" />
<rect x="289" y="311" width="1" height="3" fill="#fff" />
<rect x="298" y="311" width="1" height="3" fill="#fff" />
<rect x="300" y="311" width="1" height="3" fill="#fff" />
<rect x="300" y="315" width="1" height="1" fill="#fff" />
<rect x="302" y="311" width="1" height="3" fill="#fff" />
<rect x="308" y="311" width="1" height="3" fill="#fff" />
<rect x="308" y="315" width="1" height="1" fill="#fff" />
<rect x="359" y="311" width="1" height="3" fill="#fff" />
<rect x="359" y="315" width="1" height="1" fill="#fff" />
<rect x="362" y="311" width="1" height="3" fill="#fff" />
<rect x="365" y="311" width="1" height="3" fill="#fff" />
<rect x="367" y="311" width="1" height="3" fill="#fff" />
<rect x="369" y="311" width="1" height="3" fill="#fff" />
<rect x="369" y="315" width="1" height="1" fill="#fff" />
<rect x="371" y="311" width="1" height="3" fill="#fff" />
<rect x="373" y="311" width="1" height="3" fill="#fff" />
<rect x="383" y="311" width="1" height="3" fill="#fff" />
<rect x="385" y="311" width="1" height="3" fill="#fff" />
<rect x="385" y="315" width="1" height="1" fill="#fff" />
<rect x="389" y="311" width="1" height="3" fill="#fff" />
<rect x="389" y="315" width="1" height="1" fill="#fff" />
<rect x="394" y="311" width="1" height="3" fill="#fff" />
<rect x="398" y="311" width="1" height="3" fill="#fff" />
<rect x="400" y="311" width="1" height="3" fill="#fff" />
<rect x="402" y="311" width="1" height="3" fill="#fff" />
<rect x="402" y="315" width="1" height="1" fill="#fff" />
<rect x="416" y="311" width="1" height="3" fill="#fff" />
<rect x="416" y="315" width="1" height="1" fill="#fff" />
<rect x="418" y="311" width="1" height="3" fill="#fff" />
<rect x="420" y="311" width="1" height="3" fill="#fff" />
<rect x="422" y="311" width="1" height="3" fill="#fff" />
<rect x="422" y="315" width="1" height="1" fill="#fff" />
<rect x="432" y="311" width="1" height="3" fill="#fff" />
<rect x="434" y="311" width="1" height="3" fill="#fff" />
<rect x="434" y="315" width="1" height="1" fill="#fff" />
<rect x="436" y="311" width="1" height="3" fill="#fff" />
<rect x="438" y="311" width="1" height="3" fill="#fff" />
<rect x="225" y="306" width="221" height="1" fill="#fff" />
<rect x="241" y="322" width="222" height="13" fill="#000" />
<rect x="242" y="323" width="220" height="1" fill="#fff" />
<rect x="242" y="324" width="5" height="3" fill="#fff" />
<rect x="242" y="328" width="5" height="4" fill="#fff" />
<rect x="242" y="333" width="5" height="1" fill="#fff" />
<rect x="256" y="324" width="4" height="9" fill="#fff" />
<rect x="250" y="325" width="5" height="2" fill="#fff" />
<rect x="250" y="326" width="2" height="1" fill="#000" />
<rect x="250" y="327" width="8" height="1" fill="#000" />
<rect x="251" y="328" width="6" height="4" fill="#fff" />
<rect x="257" y="327" width="1" height="6" fill="#000" />
<rect x="457" y="324" width="5" height="3" fill="#fff" />
<rect x="457" y="328" width="5" height="4" fill="#fff" />
<rect x="457" y="333" width="5" height="1" fill="#fff" />
<rect x="444" y="324" width="4" height="9" fill="#fff" />
<rect x="449" y="325" width="5" height="2" fill="#fff" />
<rect x="452" y="326" width="2" height="1" fill="#000" />
<rect x="446" y="327" width="8" height="1" fill="#000" />
<rect x="447" y="328" width="6" height="4" fill="#fff" />
<rect x="446" y="327" width="1" height="6" fill="#000" />
<rect x="262" y="329" width="1" height="3" fill="#fff" />
<rect x="264" y="329" width="1" height="3" fill="#fff" />
<rect x="264" y="333" width="1" height="1" fill="#fff" />
<rect x="266" y="329" width="1" height="3" fill="#fff" />
<rect x="268" y="329" width="1" height="3" fill="#fff" />
<rect x="270" y="329" width="1" height="3" fill="#fff" />
<rect x="270" y="333" width="1" height="1" fill="#fff" />
<rect x="272" y="329" width="1" height="3" fill="#fff" />
<rect x="278" y="329" width="1" height="3" fill="#fff" />
<rect x="278" y="333" width="1" height="1" fill="#fff" />
<rect x="281" y="329" width="1" height="3" fill="#fff" />
<rect x="281" y="333" width="1" height="1" fill="#fff" />
<rect x="283" y="329" width="1" height="3" fill="#fff" />
<rect x="285" y="329" width="1" height="3" fill="#fff" />
<rect x="287" y="329" width="1" height="3" fill="#fff" />
<rect x="287" y="333" width="1" height="1" fill="#fff" />
<rect x="299" y="329" width="1" height="3" fill="#fff" />
<rect x="301" y="329" width="1" height="3" fill="#fff" />
<rect x="301" y="333" width="1" height="1" fill="#fff" />
<rect x="309" y="329" width="1" height="3" fill="#fff" />
<rect x="311" y="329" width="1" height="3" fill="#fff" />
<rect x="311" y="333" width="1" height="1" fill="#fff" />
<rect x="314" y="329" width="1" height="3" fill="#fff" />
<rect x="314" y="333" width="1" height="1" fill="#fff" />
<rect x="316" y="329" width="1" height="3" fill="#fff" />
<rect x="318" y="329" width="1" height="3" fill="#fff" />
<rect x="320" y="329" width="1" height="3" fill="#fff" />
<rect x="320" y="333" width="1" height="1" fill="#fff" />
<rect x="322" y="329" width="1" height="3" fill="#fff" />
<rect x="324" y="329" width="1" height="3" fill="#fff" />
<rect x="327" y="329" width="1" height="3" fill="#fff" />
<rect x="379" y="329" width="1" height="3" fill="#fff" />
<rect x="381" y="329" width="1" height="3" fill="#fff" />
<rect x="383" y="329" width="1" height="3" fill="#fff" />
<rect x="383" y="333" width="1" height="1" fill="#fff" />
<rect x="385" y="329" width="1" height="3" fill="#fff" />
<rect x="389" y="329" width="1" height="3" fill="#fff" />
<rect x="389" y="333" width="1" height="1" fill="#fff" />
<rect x="394" y="329" width="1" height="3" fill="#fff" />
<rect x="396" y="329" width="1" height="3" fill="#fff" />
<rect x="398" y="329" width="1" height="3" fill="#fff" />
<rect x="398" y="333" width="1" height="1" fill="#fff" />
<rect x="400" y="329" width="1" height="3" fill="#fff" />
<rect x="409" y="329" width="1" height="3" fill="#fff" />
<rect x="409" y="333" width="1" height="1" fill="#fff" />
<rect x="411" y="329" width="1" height="3" fill="#fff" />
<rect x="413" y="329" width="1" height="3" fill="#fff" />
<rect x="415" y="329" width="1" height="3" fill="#fff" />
<rect x="415" y="333" width="1" height="1" fill="#fff" />
<rect x="417" y="329" width="1" height="3" fill="#fff" />
<rect x="426" y="329" width="1" height="3" fill="#fff" />
<rect x="428" y="329" width="1" height="3" fill="#fff" />
<rect x="428" y="333" width="1" height="1" fill="#fff" />
<rect x="430" y="329" width="1" height="3" fill="#fff" />
<rect x="432" y="329" width="1" height="3" fill="#fff" />
<rect x="440" y="329" width="1" height="3" fill="#fff" />
<rect x="442" y="329" width="1" height="3" fill="#fff" />
<rect x="442" y="333" width="1" height="1" fill="#fff" />
<rect x="241" y="336" width="222" height="13" fill="#000" />
<rect x="242" y="347" width="220" height="1" fill="#fff" />
<rect x="242" y="337" width="5" height="3" fill="#fff" />
<rect x="242" y="341" width="5" height="4" fill="#fff" />
<rect x="242" y="346" width="5" height="1" fill="#fff" />
<rect x="256" y="337" width="4" height="9" fill="#fff" />
<rect x="250" y="338" width="5" height="2" fill="#fff" />
<rect x="250" y="339" width="2" height="1" fill="#000" />
<rect x="250" y="340" width="8" height="1" fill="#000" />
<rect x="251" y="341" width="6" height="4" fill="#fff" />
<rect x="257" y="340" width="1" height="6" fill="#000" />
<rect x="457" y="337" width="5" height="3" fill="#fff" />
<rect x="457" y="341" width="5" height="4" fill="#fff" />
<rect x="457" y="346" width="5" height="1" fill="#fff" />
<rect x="444" y="337" width="4" height="9" fill="#fff" />
<rect x="449" y="338" width="5" height="2" fill="#fff" />
<rect x="452" y="339" width="2" height="1" fill="#000" />
<rect x="446" y="340" width="8" height="1" fill="#000" />
<rect x="447" y="341" width="6" height="4" fill="#fff" />
<rect x="446" y="340" width="1" height="6" fill="#000" />
<rect x="262" y="342" width="1" height="3" fill="#fff" />
<rect x="264" y="342" width="1" height="3" fill="#fff" />
<rect x="264" y="346" width="1" height="1" fill="#fff" />
<rect x="266" y="342" width="1" height="3" fill="#fff" />
<rect x="268" y="342" width="1" height="3" fill="#fff" />
<rect x="270" y="342" width="1" height="3" fill="#fff" />
<rect x="270" y="346" width="1" height="1" fill="#fff" />
<rect x="272" y="342" width="1" height="3" fill="#fff" />
<rect x="278" y="342" width="1" height="3" fill="#fff" />
<rect x="278" y="346" width="1" height="1" fill="#fff" />
<rect x="281" y="342" width="1" height="3" fill="#fff" />
<rect x="281" y="346" width="1" height="1" fill="#fff" />
<rect x="283" y="342" width="1" height="3" fill="#fff" />
<rect x="285" y="342" width="1" height="3" fill="#fff" />
<rect x="287" y="342" width="1" height="3" fill="#fff" />
<rect x="287" y="346" width="1" height="1" fill="#fff" />
<rect x="299" y="342" width="1" height="3" fill="#fff" />
<rect x="301" y="342" width="1" height="3" fill="#fff" />
<rect x="301" y="346" width="1" height="1" fill="#fff" />
<rect x="309" y="342" width="1" height="3" fill="#fff" />
<rect x="311" y="342" width="1" height="3" fill="#fff" />
<rect x="311" y="346" width="1" height="1" fill="#fff" />
<rect x="314" y="342" width="1" height="3" fill="#fff" />
<rect x="314" y="346" width="1" height="1" fill="#fff" />
<rect x="316" y="342" width="1" height="3" fill="#fff" />
<rect x="318" y="342" width="1" height="3" fill="#fff" />
<rect x="320" y="342" width="1" height="3" fill="#fff" />
<rect x="320" y="346" width="1" height="1" fill="#fff" />
<rect x="322" y="342" width="1" height="3" fill="#fff" />
<rect x="324" y="342" width="1" height="3" fill="#fff" />
<rect x="326" y="342" width="1" height="3" fill="#fff" />
<rect x="326" y="346" width="1" height="1" fill="#fff" />
<rect x="328" y="342" width="1" height="3" fill="#fff" />
<rect x="331" y="342" width="1" height="3" fill="#fff" />
<rect x="333" y="342" width="1" height="3" fill="#fff" />
<rect x="335" y="342" width="1" height="3" fill="#fff" />
<rect x="335" y="346" width="1" height="1" fill="#fff" />
<rect x="337" y="342" width="1" height="3" fill="#fff" />
<rect x="341" y="342" width="1" height="3" fill="#fff" />
<rect x="343" y="342" width="1" height="3" fill="#fff" />
<rect x="345" y="342" width="1" height="3" fill="#fff" />
<rect x="345" y="346" width="1" height="1" fill="#fff" />
<rect x="363" y="342" width="1" height="3" fill="#fff" />
<rect x="365" y="342" width="1" height="3" fill="#fff" />
<rect x="365" y="346" width="1" height="1" fill="#fff" />
<rect x="367" y="342" width="1" height="3" fill="#fff" />
<rect x="369" y="342" width="1" height="3" fill="#fff" />
<rect x="379" y="342" width="1" height="3" fill="#fff" />
<rect x="381" y="342" width="1" height="3" fill="#fff" />
<rect x="383" y="342" width="1" height="3" fill="#fff" />
<rect x="383" y="346" width="1" height="1" fill="#fff" />
<rect x="385" y="342" width="1" height="3" fill="#fff" />
<rect x="389" y="342" width="1" height="3" fill="#fff" />
<rect x="389" y="346" width="1" height="1" fill="#fff" />
<rect x="394" y="342" width="1" height="3" fill="#fff" />
<rect x="396" y="342" width="1" height="3" fill="#fff" />
<rect x="398" y="342" width="1" height="3" fill="#fff" />
<rect x="398" y="346" width="1" height="1" fill="#fff" />
<rect x="400" y="342" width="1" height="3" fill="#fff" />
<rect x="409" y="342" width="1" height="3" fill="#fff" />
<rect x="409" y="346" width="1" height="1" fill="#fff" />
<rect x="411" y="342" width="1" height="3" fill="#fff" />
<rect x="413" y="342" width="1" height="3" fill="#fff" />
<rect x="415" y="342" width="1" height="3" fill="#fff" />
<rect x="415" y="346" width="1" height="1" fill="#fff" />
<rect x="417" y="342" width="1" height="3" fill="#fff" />
<rect x="426" y="342" width="1" height="3" fill="#fff" />
<rect x="428" y="342" width="1" height="3" fill="#fff" />
<rect x="428" y="346" width="1" height="1" fill="#fff" />
<rect x="430" y="342" width="1" height="3" fill="#fff" />
<rect x="432" y="342" width="1" height="3" fill="#fff" />
<rect x="440" y="342" width="1" height="3" fill="#fff" />
<rect x="442" y="342" width="1" height="3" fill="#fff" />
<rect x="442" y="346" width="1" height="1" fill="#fff" />
<rect x="348" y="323" width="8" height="5" fill="#fff" />
<rect x="348" y="344" width="7" height="4" fill="#fff" />
<rect x="241" y="350" width="222" height="13" fill="#000" />
<rect x="242" y="351" width="220" height="1" fill="#fff" />
<rect x="242" y="352" width="5" height="3" fill="#fff" />
<rect x="242" y="356" width="5" height="4" fill="#fff" />
<rect x="242" y="361" width="5" height="1" fill="#fff" />
<rect x="256" y="352" width="4" height="9" fill="#fff" />
<rect x="250" y="353" width="5" height="2" fill="#fff" />
<rect x="250" y="354" width="2" height="1" fill="#000" />
<rect x="250" y="355" width="8" height="1" fill="#000" />
<rect x="251" y="356" width="6" height="4" fill="#fff" />
<rect x="257" y="355" width="1" height="6" fill="#000" />
<rect x="457" y="352" width="5" height="3" fill="#fff" />
<rect x="457" y="356" width="5" height="4" fill="#fff" />
<rect x="457" y="361" width="5" height="1" fill="#fff" />
<rect x="444" y="352" width="4" height="9" fill="#fff" />
<rect x="449" y="353" width="5" height="2" fill="#fff" />
<rect x="452" y="354" width="2" height="1" fill="#000" />
<rect x="446" y="355" width="8" height="1" fill="#000" />
<rect x="447" y="356" width="6" height="4" fill="#fff" />
<rect x="446" y="355" width="1" height="6" fill="#000" />
<rect x="262" y="357" width="1" height="3" fill="#fff" />
<rect x="264" y="357" width="1" height="3" fill="#fff" />
<rect x="264" y="361" width="1" height="1" fill="#fff" />
<rect x="266" y="357" width="1" height="3" fill="#fff" />
<rect x="268" y="357" width="1" height="3" fill="#fff" />
<rect x="270" y="357" width="1" height="3" fill="#fff" />
<rect x="270" y="361" width="1" height="1" fill="#fff" />
<rect x="272" y="357" width="1" height="3" fill="#fff" />
<rect x="278" y="357" width="1" height="3" fill="#fff" />
<rect x="278" y="361" width="1" height="1" fill="#fff" />
<rect x="281" y="357" width="1" height="3" fill="#fff" />
<rect x="281" y="361" width="1" height="1" fill="#fff" />
<rect x="283" y="357" width="1" height="3" fill="#fff" />
<rect x="285" y="357" width="1" height="3" fill="#fff" />
<rect x="287" y="357" width="1" height="3" fill="#fff" />
<rect x="287" y="361" width="1" height="1" fill="#fff" />
<rect x="299" y="357" width="1" height="3" fill="#fff" />
<rect x="301" y="357" width="1" height="3" fill="#fff" />
<rect x="301" y="361" width="1" height="1" fill="#fff" />
<rect x="309" y="357" width="1" height="3" fill="#fff" />
<rect x="311" y="357" width="1" height="3" fill="#fff" />
<rect x="311" y="361" width="1" height="1" fill="#fff" />
<rect x="314" y="357" width="1" height="3" fill="#fff" />
<rect x="314" y="361" width="1" height="1" fill="#fff" />
<rect x="316" y="357" width="1" height="3" fill="#fff" />
<rect x="318" y="357" width="1" height="3" fill="#fff" />
<rect x="320" y="357" width="1" height="3" fill="#fff" />
<rect x="320" y="361" width="1" height="1" fill="#fff" />
<rect x="322" y="357" width="1" height="3" fill="#fff" />
<rect x="324" y="357" width="1" height="3" fill="#fff" />
<rect x="327" y="357" width="1" height="3" fill="#fff" />
<rect x="379" y="357" width="1" height="3" fill="#fff" />
<rect x="381" y="357" width="1" height="3" fill="#fff" />
<rect x="383" y="357" width="1" height="3" fill="#fff" />
<rect x="383" y="361" width="1" height="1" fill="#fff" />
<rect x="385" y="357" width="1" height="3" fill="#fff" />
<rect x="389" y="357" width="1" height="3" fill="#fff" />
<rect x="389" y="361" width="1" height="1" fill="#fff" />
<rect x="394" y="357" width="1" height="3" fill="#fff" />
<rect x="396" y="357" width="1" height="3" fill="#fff" />
<rect x="398" y="357" width="1" height="3" fill="#fff" />
<rect x="398" y="361" width="1" height="1" fill="#fff" />
<rect x="400" y="357" width="1" height="3" fill="#fff" />
<rect x="409" y="357" width="1" height="3" fill="#fff" />
<rect x="409" y="361" width="1" height="1" fill="#fff" />
<rect x="411" y="357" width="1" height="3" fill="#fff" />
<rect x="413" y="357" width="1" height="3" fill="#fff" />
<rect x="415" y="357" width="1" height="3" fill="#fff" />
<rect x="415" y="361" width="1" height="1" fill="#fff" />
<rect x="417" y="357" width="1" height="3" fill="#fff" />
<rect x="426" y="357" width="1" height="3" fill="#fff" />
<rect x="428" y="357" width="1" height="3" fill="#fff" />
<rect x="428" y="361" width="1" height="1" fill="#fff" />
<rect x="430" y="357" width="1" height="3" fill="#fff" />
<rect x="432" y="357" width="1" height="3" fill="#fff" />
<rect x="440" y="357" width="1" height="3" fill="#fff" />
<rect x="442" y="357" width="1" height="3" fill="#fff" />
<rect x="442" y="361" width="1" height="1" fill="#fff" />
<rect x="241" y="364" width="222" height="13" fill="#000" />
<rect x="242" y="375" width="220" height="1" fill="#fff" />
<rect x="242" y="365" width="5" height="3" fill="#fff" />
<rect x="242" y="369" width="5" height="4" fill="#fff" />
<rect x="242" y="374" width="5" height="1" fill="#fff" />
<rect x="256" y="365" width="4" height="9" fill="#fff" />
<rect x="250" y="366" width="5" height="2" fill="#fff" />
<rect x="250" y="367" width="2" height="1" fill="#000" />
<rect x="250" y="368" width="8" height="1" fill="#000" />
<rect x="251" y="369" width="6" height="4" fill="#fff" />
<rect x="257" y="368" width="1" height="6" fill="#000" />
<rect x="457" y="365" width="5" height="3" fill="#fff" />
<rect x="457" y="369" width="5" height="4" fill="#fff" />
<rect x="457" y="374" width="5" height="1" fill="#fff" />
<rect x="444" y="365" width="4" height="9" fill="#fff" />
<rect x="449" y="366" width="5" height="2" fill="#fff" />
<rect x="452" y="367" width="2" height="1" fill="#000" />
<rect x="446" y="368" width="8" height="1" fill="#000" />
<rect x="447" y="369" width="6" height="4" fill="#fff" />
<rect x="446" y="368" width="1" height="6" fill="#000" />
<rect x="262" y="370" width="1" height="3" fill="#fff" />
<rect x="264" y="370" width="1" height="3" fill="#fff" />
<rect x="264" y="374" width="1" height="1" fill="#fff" />
<rect x="266" y="370" width="1" height="3" fill="#fff" />
<rect x="268" y="370" width="1" height="3" fill="#fff" />
<rect x="270" y="370" width="1" height="3" fill="#fff" />
<rect x="270" y="374" width="1" height="1" fill="#fff" />
<rect x="272" y="370" width="1" height="3" fill="#fff" />
<rect x="278" y="370" width="1" height="3" fill="#fff" />
<rect x="278" y="374" width="1" height="1" fill="#fff" />
<rect x="281" y="370" width="1" height="3" fill="#fff" />
<rect x="281" y="374" width="1" height="1" fill="#fff" />
<rect x="283" y="370" width="1" height="3" fill="#fff" />
<rect x="285" y="370" width="1" height="3" fill="#fff" />
<rect x="287" y="370" width="1" height="3" fill="#fff" />
<rect x="287" y="374" width="1" height="1" fill="#fff" />
<rect x="299" y="370" width="1" height="3" fill="#fff" />
<rect x="301" y="370" width="1" height="3" fill="#fff" />
<rect x="301" y="374" width="1" height="1" fill="#fff" />
<rect x="309" y="370" width="1" height="3" fill="#fff" />
<rect x="311" y="370" width="1" height="3" fill="#fff" />
<rect x="311" y="374" width="1" height="1" fill="#fff" />
<rect x="314" y="370" width="1" height="3" fill="#fff" />
<rect x="314" y="374" width="1" height="1" fill="#fff" />
<rect x="316" y="370" width="1" height="3" fill="#fff" />
<rect x="318" y="370" width="1" height="3" fill="#fff" />
<rect x="320" y="370" width="1" height="3" fill="#fff" />
<rect x="320" y="374" width="1" height="1" fill="#fff" />
<rect x="322" y="370" width="1" height="3" fill="#fff" />
<rect x="324" y="370" width="1" height="3" fill="#fff" />
<rect x="326" y="370" width="1" height="3" fill="#fff" />
<rect x="326" y="374" width="1" height="1" fill="#fff" />
<rect x="328" y="370" width="1" height="3" fill="#fff" />
<rect x="331" y="370" width="1" height="3" fill="#fff" />
<rect x="333" y="370" width="1" height="3" fill="#fff" />
<rect x="335" y="370" width="1" height="3" fill="#fff" />
<rect x="335" y="374" width="1" height="1" fill="#fff" />
<rect x="337" y="370" width="1" height="3" fill="#fff" />
<rect x="341" y="370" width="1" height="3" fill="#fff" />
<rect x="343" y="370" width="1" height="3" fill="#fff" />
<rect x="345" y="370" width="1" height="3" fill="#fff" />
<rect x="345" y="374" width="1" height="1" fill="#fff" />
<rect x="363" y="370" width="1" height="3" fill="#fff" />
<rect x="365" y="370" width="1" height="3" fill="#fff" />
<rect x="365" y="374" width="1" height="1" fill="#fff" />
<rect x="367" y="370" width="1" height="3" fill="#fff" />
<rect x="369" y="370" width="1" height="3" fill="#fff" />
<rect x="379" y="370" width="1" height="3" fill="#fff" />
<rect x="381" y="370" width="1" height="3" fill="#fff" />
<rect x="383" y="370" width="1" height="3" fill="#fff" />
<rect x="383" y="374" width="1" height="1" fill="#fff" />
<rect x="385" y="370" width="1" height="3" fill="#fff" />
<rect x="389" y="370" width="1" height="3" fill="#fff" />
<rect x="389" y="374" width="1" height="1" fill="#fff" />
<rect x="394" y="370" width="1" height="3" fill="#fff" />
<rect x="396" y="370" width="1" height="3" fill="#fff" />
<rect x="398" y="370" width="1" height="3" fill="#fff" />
<rect x="398" y="374" width="1" height="1" fill="#fff" />
<rect x="400" y="370" width="1" height="3" fill="#fff" />
<rect x="409" y="370" width="1" height="3" fill="#fff" />
<rect x="409" y="374" width="1" height="1" fill="#fff" />
<rect x="411" y="370" width="1" height="3" fill="#fff" />
<rect x="413" y="370" width="1" height="3" fill="#fff" />
<rect x="415" y="370" width="1" height="3" fill="#fff" />
<rect x="415" y="374" width="1" height="1" fill="#fff" />
<rect x="417" y="370" width="1" height="3" fill="#fff" />
<rect x="426" y="370" width="1" height="3" fill="#fff" />
<rect x="428" y="370" width="1" height="3" fill="#fff" />
<rect x="428" y="374" width="1" height="1" fill="#fff" />
<rect x="430" y="370" width="1" height="3" fill="#fff" />
<rect x="432" y="370" width="1" height="3" fill="#fff" />
<rect x="440" y="370" width="1" height="3" fill="#fff" />
<rect x="442" y="370" width="1" height="3" fill="#fff" />
<rect x="442" y="374" width="1" height="1" fill="#fff" />
<rect x="348" y="351" width="8" height="5" fill="#fff" />
<rect x="348" y="372" width="7" height="4" fill="#fff" />
<rect x="311.6" y="289.6" width="44.8" height="11.8" rx="0.5" fill="#fff" stroke="#000" stroke-width="1.2" shape-rendering="geometricPrecision"/>
<text x="314.3" y="299.8" font-size="11" fill="#000" text-anchor="start" stroke="#000" stroke-width="0.1" textLength="39" lengthAdjust="spacing">BANK 3</text>
<rect x="311.6" y="305.6" width="44.8" height="11.8" rx="0.5" fill="#fff" stroke="#000" stroke-width="1.2" shape-rendering="geometricPrecision"/>
<text x="314.3" y="315.8" font-size="11" fill="#000" text-anchor="start" stroke="#000" stroke-width="0.1" textLength="39" lengthAdjust="spacing">BANK 2</text>
<rect x="329.4" y="330" width="45" height="12" rx="2" fill="#fff" shape-rendering="geometricPrecision"/>
<text x="331.8" y="340" font-size="11" fill="#000" text-anchor="start" stroke="#000" stroke-width="0.1" textLength="38.9" lengthAdjust="spacing">BANK 1</text>
<rect x="329.4" y="356.8" width="45" height="11.8" rx="2" fill="#fff" shape-rendering="geometricPrecision"/>
<text x="331.8" y="366.8" font-size="11" fill="#000" text-anchor="start" stroke="#000" stroke-width="0.1" textLength="38.9" lengthAdjust="spacing">BANK 0</text>
<rect x="47" y="285" width="48" height="3" fill="#000" />
<rect x="49" y="285" width="1" height="3" fill="#fff" />
<rect x="53" y="285" width="1" height="3" fill="#fff" />
<rect x="57" y="285" width="1" height="3" fill="#fff" />
<rect x="62" y="285" width="1" height="3" fill="#fff" />
<rect x="66" y="285" width="1" height="3" fill="#fff" />
<rect x="72" y="285" width="1" height="3" fill="#fff" />
<rect x="79" y="285" width="1" height="3" fill="#fff" />
<rect x="84" y="285" width="1" height="3" fill="#fff" />
<rect x="89" y="285" width="1" height="3" fill="#fff" />
<rect x="42" y="288" width="54" height="35" fill="#000" />
<rect x="46" y="290" width="48" height="31" fill="#fff" />
<rect x="96" y="290" width="3" height="32" fill="#000" />
<rect x="96" y="293" width="3" height="1" fill="#fff" />
<rect x="96" y="297" width="3" height="1" fill="#fff" />
<rect x="96" y="301" width="3" height="1" fill="#fff" />
<rect x="96" y="305" width="3" height="1" fill="#fff" />
<rect x="96" y="308" width="3" height="1" fill="#fff" />
<rect x="96" y="312" width="3" height="1" fill="#fff" />
<rect x="96" y="315" width="3" height="1" fill="#fff" />
<rect x="96" y="318" width="3" height="1" fill="#fff" />
<rect x="42" y="294" width="2" height="1" fill="#fff" />
<rect x="42" y="298" width="2" height="1" fill="#fff" />
<rect x="42" y="305" width="2" height="1" fill="#fff" />
<rect x="42" y="312" width="2" height="1" fill="#fff" />
<rect x="42" y="339" width="54" height="35" fill="#000" />
<rect x="46" y="341" width="48" height="31" fill="#fff" />
<rect x="45" y="374" width="48" height="3" fill="#000" />
<rect x="49" y="374" width="1" height="3" fill="#fff" />
<rect x="54" y="374" width="1" height="3" fill="#fff" />
<rect x="59" y="374" width="1" height="3" fill="#fff" />
<rect x="64" y="374" width="1" height="3" fill="#fff" />
<rect x="68" y="374" width="1" height="3" fill="#fff" />
<rect x="72" y="374" width="1" height="3" fill="#fff" />
<rect x="77" y="374" width="1" height="3" fill="#fff" />
<rect x="81" y="374" width="1" height="3" fill="#fff" />
<rect x="96" y="341" width="3" height="33" fill="#000" />
<rect x="96" y="344" width="3" height="1" fill="#fff" />
<rect x="96" y="348" width="3" height="1" fill="#fff" />
<rect x="96" y="351" width="3" height="1" fill="#fff" />
<rect x="96" y="355" width="3" height="1" fill="#fff" />
<rect x="96" y="358" width="3" height="1" fill="#fff" />
<rect x="96" y="362" width="3" height="1" fill="#fff" />
<rect x="96" y="365" width="3" height="1" fill="#fff" />
<rect x="96" y="369" width="3" height="1" fill="#fff" />
<rect x="42" y="345" width="2" height="1" fill="#fff" />
<rect x="42" y="353" width="2" height="1" fill="#fff" />
<rect x="42" y="364" width="2" height="1" fill="#fff" />
<rect x="49" y="338" width="1" height="1" fill="#000" />
<rect x="54" y="338" width="1" height="1" fill="#000" />
<rect x="59" y="338" width="1" height="1" fill="#000" />
<rect x="64" y="338" width="1" height="1" fill="#000" />
<rect x="68" y="338" width="1" height="1" fill="#000" />
<rect x="73" y="338" width="1" height="1" fill="#000" />
<rect x="78" y="338" width="1" height="1" fill="#000" />
<rect x="83" y="338" width="1" height="1" fill="#000" />
<rect x="88" y="338" width="1" height="1" fill="#000" />
<rect x="46" y="324" width="48" height="15" fill="#000" />
<rect x="47.5" y="325.5" width="45" height="13.5" fill="#fff" />
<text x="50" y="337.3" font-size="11" fill="#000" text-anchor="start" stroke="#000" stroke-width="0.1" textLength="39" lengthAdjust="spacing">BANK 0</text>
<rect x="46" y="337.6" width="48" height="1.4" fill="#000" />
<path d="M95,283.5 Q99.5,284 99.5,288 L99.5,326.5 L103.5,331 L99.5,335.5 L99.5,374 Q99.5,378 93,378.5" fill="none" stroke="#000" stroke-width="1" shape-rendering="geometricPrecision"/>
<rect x="97" y="327" width="2" height="8" fill="#fff" />
<rect x="105" y="323.7" width="39" height="13.1" rx="2" fill="#fff" stroke="#000" stroke-width="2" shape-rendering="geometricPrecision"/>
<text x="106.5" y="335.6" font-size="11" fill="#000" text-anchor="start" textLength="36.6" lengthAdjust="spacingAndGlyphs" stroke="#000" stroke-width="0.1" >CACHE</text>
<rect x="467" y="330" width="10" height="81" fill="#000" />
<rect x="468" y="405" width="8" height="1" fill="#fff" />
<rect x="468" y="400" width="8" height="1" fill="#fff" />
<rect x="468" y="396" width="8" height="1" fill="#fff" />
<rect x="468" y="391" width="8" height="1" fill="#fff" />
<rect x="468" y="387" width="8" height="1" fill="#fff" />
<rect x="468" y="382" width="8" height="1" fill="#fff" />
<rect x="468" y="378" width="8" height="1" fill="#fff" />
<rect x="468" y="373" width="8" height="1" fill="#fff" />
<rect x="468" y="369" width="8" height="1" fill="#fff" />
<rect x="468" y="364" width="8" height="1" fill="#fff" />
<rect x="468" y="360" width="8" height="1" fill="#fff" />
<rect x="468" y="355" width="8" height="1" fill="#fff" />
<rect x="468" y="350" width="8" height="1" fill="#fff" />
<rect x="468" y="346" width="8" height="1" fill="#fff" />
<rect x="468" y="341" width="8" height="1" fill="#fff" />
<rect x="468" y="337" width="8" height="1" fill="#fff" />
<rect x="468" y="332" width="8" height="1" fill="#fff" />
<rect x="472" y="408" width="3" height="1" fill="#fff" />
<rect x="459.5" y="424" width="24.2" height="12.8" rx="2" fill="#fff" stroke="#000" stroke-width="2" shape-rendering="geometricPrecision"/>
<text x="460.9" y="435.6" font-size="11" fill="#000" text-anchor="start" textLength="22.6" lengthAdjust="spacingAndGlyphs" stroke="#000" stroke-width="0.1" >CN4</text>
<path d="M469.5,424.2 L471.6,417 L473.6,417 L475.6,424.2" fill="#fff" stroke="#000" stroke-width="1.2" shape-rendering="geometricPrecision"/>
<rect x="471.5" y="411" width="2.1" height="7.5" fill="#000" />
<rect x="510" y="312" width="11" height="26" fill="#000" />
<rect x="515.3" y="313.5" width="1" height="23" fill="#fff" />
<rect x="511" y="313.5" width="9" height="1" fill="#fff" />
<rect x="511" y="322" width="9" height="1" fill="#fff" />
<rect x="511" y="327.2" width="9" height="1" fill="#fff" />
<rect x="511" y="332" width="9" height="1" fill="#fff" />
<rect x="517.3" y="333.5" width="2" height="2" fill="#fff" />
<rect x="510" y="351" width="11" height="25" fill="#000" />
<rect x="515.3" y="352.5" width="1" height="22" fill="#fff" />
<rect x="511" y="356" width="9" height="1" fill="#fff" />
<rect x="511" y="365.2" width="9" height="1" fill="#fff" />
<rect x="511" y="370" width="9" height="1" fill="#fff" />
<rect x="517.3" y="372" width="2" height="2" fill="#fff" />
<rect x="527" y="313" width="11" height="62" fill="#000" />
<rect x="532.5" y="314.5" width="1" height="59" fill="#fff" />
<rect x="528" y="318" width="9" height="1" fill="#fff" />
<rect x="528" y="322.72" width="9" height="1" fill="#fff" />
<rect x="528" y="327.44" width="9" height="1" fill="#fff" />
<rect x="528" y="332.16" width="9" height="1" fill="#fff" />
<rect x="528" y="336.88" width="9" height="1" fill="#fff" />
<rect x="528" y="341.6" width="9" height="1" fill="#fff" />
<rect x="528" y="346.32" width="9" height="1" fill="#fff" />
<rect x="528" y="351.04" width="9" height="1" fill="#fff" />
<rect x="528" y="355.76" width="9" height="1" fill="#fff" />
<rect x="528" y="360.48" width="9" height="1" fill="#fff" />
<rect x="528" y="365.2" width="9" height="1" fill="#fff" />
<rect x="528" y="369.92" width="9" height="1" fill="#fff" />
<rect x="534.5" y="371.5" width="2" height="2" fill="#fff" />
<rect x="520.2" y="294" width="25.8" height="12.8" rx="1.2" fill="#fff" stroke="#000" stroke-width="2" shape-rendering="geometricPrecision"/>
<text x="522.3" y="305.8" font-size="11" fill="#000" text-anchor="start" textLength="20.8" lengthAdjust="spacingAndGlyphs" stroke="#000" stroke-width="0.1" >CN2</text>
<path d="M520.5,305.5 L514.3,312 M523.5,307 L517.5,312.3" fill="none" stroke="#000" stroke-width="1.5" shape-rendering="geometricPrecision"/>
<rect x="551" y="352.2" width="26.6" height="12" rx="2.5" fill="#fff" stroke="#000" stroke-width="2" shape-rendering="geometricPrecision"/>
<text x="553.9" y="363.7" font-size="11" fill="#000" text-anchor="start" textLength="20.4" lengthAdjust="spacingAndGlyphs" stroke="#000" stroke-width="0.1" >CN1</text>
<path d="M552,354.0 L547,357.7 L547,359.3 L552,363.0 Z" fill="#fff" stroke="#000" stroke-width="1.3" shape-rendering="geometricPrecision" stroke-linejoin="round"/>
<rect x="550.8" y="355.9" width="2.8" height="5.2" fill="#fff" shape-rendering="geometricPrecision"/>
<path d="M547.8,358.5 L540,357.3" fill="none" stroke="#000" stroke-width="2.9" shape-rendering="geometricPrecision"/>
<rect x="602.8" y="323.2" width="25.7" height="12.3" rx="1.5" fill="#fff" stroke="#000" stroke-width="2" shape-rendering="geometricPrecision"/>
<text x="603.8" y="334.4" font-size="11" fill="#000" text-anchor="start" textLength="21.1" lengthAdjust="spacingAndGlyphs" stroke="#000" stroke-width="0.1" >CN7</text>
<path d="M603,326.6 L596,328.6 L592,329.2 L592,330.6 L596,330.9 L603,332.6" fill="#fff" stroke="#000" stroke-width="1.2" shape-rendering="geometricPrecision"/>
<rect x="599.5" y="328.3" width="4.5" height="3" fill="#fff" shape-rendering="geometricPrecision"/>
<path d="M591.5,329.9 L595.5,329.9" fill="none" stroke="#000" stroke-width="2.2" shape-rendering="geometricPrecision"/>
<rect x="585" y="316" width="6" height="30" fill="#000" />
<rect x="586" y="321" width="4" height="1" fill="#fff" />
<rect x="586" y="325.6" width="4" height="1" fill="#fff" />
<rect x="586" y="330.2" width="4" height="1" fill="#fff" />
<rect x="586" y="334.8" width="4" height="1" fill="#fff" />
<rect x="586" y="339.4" width="4" height="1" fill="#fff" />
<rect x="586" y="344" width="4" height="1" fill="#fff" />
<path d="M577,360 L596,360 L596,357.5 L598,357.5 L598,355 L600,355 L600,394.5 L598,394.5 L598,392 L596,392 L596,389.5 L577,389.5 L577,386 L575,386 L575,384 L571,384 L571,367 L577,367 Z" fill="#000" stroke="none" stroke-width="1" />
<rect x="572" y="368" width="2" height="4.5" fill="#fff" />
<rect x="572" y="376.5" width="2" height="5.5" fill="#fff" />
<rect x="576" y="373" width="1" height="4" fill="#fff" />
<rect x="480" y="390" width="90" height="20" fill="#000" />
<rect x="481" y="391" width="88" height="17" fill="#fff" />
<rect x="481" y="394" width="88" height="2" fill="#000" />
<rect x="483.40" y="392" width="3.6" height="2.6" rx="1" fill="#000" shape-rendering="geometricPrecision"/>
<rect x="482.50" y="397.5" width="5.8" height="1.6" fill="#000" shape-rendering="geometricPrecision"/>
<rect x="490.75" y="392" width="3.6" height="2.6" rx="1" fill="#000" shape-rendering="geometricPrecision"/>
<rect x="490.00" y="397.5" width="5.8" height="1.6" fill="#000" shape-rendering="geometricPrecision"/>
<rect x="498.10" y="392" width="3.6" height="2.6" rx="1" fill="#000" shape-rendering="geometricPrecision"/>
<rect x="497.50" y="397.5" width="5.8" height="1.6" fill="#000" shape-rendering="geometricPrecision"/>
<rect x="505.45" y="392" width="3.6" height="2.6" rx="1" fill="#000" shape-rendering="geometricPrecision"/>
<rect x="505.00" y="397.5" width="5.8" height="1.6" fill="#000" shape-rendering="geometricPrecision"/>
<rect x="512.80" y="392" width="3.6" height="2.6" rx="1" fill="#000" shape-rendering="geometricPrecision"/>
<rect x="512.50" y="397.5" width="5.8" height="1.6" fill="#000" shape-rendering="geometricPrecision"/>
<rect x="520.15" y="392" width="3.6" height="2.6" rx="1" fill="#000" shape-rendering="geometricPrecision"/>
<rect x="520.00" y="397.5" width="5.8" height="1.6" fill="#000" shape-rendering="geometricPrecision"/>
<rect x="527.50" y="392" width="3.6" height="2.6" rx="1" fill="#000" shape-rendering="geometricPrecision"/>
<rect x="527.50" y="397.5" width="5.8" height="1.6" fill="#000" shape-rendering="geometricPrecision"/>
<rect x="534.85" y="392" width="3.6" height="2.6" rx="1" fill="#000" shape-rendering="geometricPrecision"/>
<rect x="535.00" y="397.5" width="5.8" height="1.6" fill="#000" shape-rendering="geometricPrecision"/>
<rect x="542.20" y="392" width="3.6" height="2.6" rx="1" fill="#000" shape-rendering="geometricPrecision"/>
<rect x="542.50" y="397.5" width="5.8" height="1.6" fill="#000" shape-rendering="geometricPrecision"/>
<rect x="549.55" y="392" width="3.6" height="2.6" rx="1" fill="#000" shape-rendering="geometricPrecision"/>
<rect x="550.00" y="397.5" width="5.8" height="1.6" fill="#000" shape-rendering="geometricPrecision"/>
<rect x="556.90" y="392" width="3.6" height="2.6" rx="1" fill="#000" shape-rendering="geometricPrecision"/>
<rect x="557.50" y="397.5" width="5.8" height="1.6" fill="#000" shape-rendering="geometricPrecision"/>
<rect x="564.25" y="392" width="3.6" height="2.6" rx="1" fill="#000" shape-rendering="geometricPrecision"/>
<rect x="565.00" y="397.5" width="5.8" height="1.6" fill="#000" shape-rendering="geometricPrecision"/>
<rect x="485.25" y="401.5" width="4.6" height="5" fill="#fff" stroke="#000" stroke-width="1" shape-rendering="geometricPrecision"/>
<rect x="492.77" y="401.5" width="4.6" height="5" fill="#fff" stroke="#000" stroke-width="1" shape-rendering="geometricPrecision"/>
<rect x="500.30" y="401.5" width="4.6" height="5" fill="#fff" stroke="#000" stroke-width="1" shape-rendering="geometricPrecision"/>
<rect x="507.82" y="401.5" width="4.6" height="5" fill="#fff" stroke="#000" stroke-width="1" shape-rendering="geometricPrecision"/>
<rect x="515.35" y="401.5" width="4.6" height="5" fill="#fff" stroke="#000" stroke-width="1" shape-rendering="geometricPrecision"/>
<rect x="522.88" y="401.5" width="4.6" height="5" fill="#fff" stroke="#000" stroke-width="1" shape-rendering="geometricPrecision"/>
<rect x="530.40" y="401.5" width="4.6" height="5" fill="#fff" stroke="#000" stroke-width="1" shape-rendering="geometricPrecision"/>
<rect x="537.92" y="401.5" width="4.6" height="5" fill="#fff" stroke="#000" stroke-width="1" shape-rendering="geometricPrecision"/>
<rect x="545.45" y="401.5" width="4.6" height="5" fill="#fff" stroke="#000" stroke-width="1" shape-rendering="geometricPrecision"/>
<rect x="552.98" y="401.5" width="4.6" height="5" fill="#fff" stroke="#000" stroke-width="1" shape-rendering="geometricPrecision"/>
<rect x="560.50" y="401.5" width="4.6" height="5" fill="#fff" stroke="#000" stroke-width="1" shape-rendering="geometricPrecision"/>
<rect x="502.6" y="389" width="24.4" height="12.2" rx="2" fill="#fff" stroke="#000" stroke-width="2" shape-rendering="geometricPrecision"/>
<text x="503.6" y="400.6" font-size="11" fill="#000" text-anchor="start" textLength="22.5" lengthAdjust="spacingAndGlyphs" stroke="#000" stroke-width="0.1" >CN3</text>
<path d="M513,389.2 L515,382 L516.6,382 L518.4,389.2" fill="#fff" stroke="#000" stroke-width="1.2" shape-rendering="geometricPrecision"/>
<rect x="515" y="376" width="1.6" height="7" fill="#000" />
<rect x="240" y="49" width="31.5" height="13" rx="2.5" fill="#fff" stroke="#000" stroke-width="2" shape-rendering="geometricPrecision"/>
<text x="240.6" y="61.3" font-size="11" fill="#000" text-anchor="start" textLength="30.9" lengthAdjust="spacingAndGlyphs" stroke="#000" stroke-width="0.1" >CMOS</text>
<path d="M271,51.0 L277,54.7 L277,56.3 L271,60.0 Z" fill="#fff" stroke="#000" stroke-width="1.3" shape-rendering="geometricPrecision" stroke-linejoin="round"/>
<rect x="269.4" y="52.9" width="2.8" height="5.2" fill="#fff" shape-rendering="geometricPrecision"/>
<path d="M276.2,55.5 L284,55.6" fill="none" stroke="#000" stroke-width="2.9" shape-rendering="geometricPrecision"/>
<rect x="284" y="48" width="6" height="16" fill="#000" />
<rect x="285" y="53" width="4" height="1" fill="#fff" />
<rect x="285" y="58" width="4" height="1" fill="#fff" />
<rect x="286" y="60" width="2" height="1" fill="#fff" />
<rect x="285" y="62" width="4" height="1" fill="#fff" />
<rect x="548.2" y="101.2" width="25.8" height="13.4" rx="2.5" fill="#fff" stroke="#000" stroke-width="2" shape-rendering="geometricPrecision"/>
<text x="550.8" y="112.8" font-size="11" fill="#000" text-anchor="start" textLength="19.3" lengthAdjust="spacingAndGlyphs" stroke="#000" stroke-width="0.1" >JS1</text>
<path d="M573.6,103.5 L578.6,107.2 L578.6,108.8 L573.6,112.5 Z" fill="#fff" stroke="#000" stroke-width="1.3" shape-rendering="geometricPrecision" stroke-linejoin="round"/>
<rect x="572" y="105.4" width="2.8" height="5.2" fill="#fff" shape-rendering="geometricPrecision"/>
<path d="M577.8000000000001,108.0 L587,108" fill="none" stroke="#000" stroke-width="2.9" shape-rendering="geometricPrecision"/>
<rect x="587" y="100" width="6" height="16" fill="#000" />
<rect x="588" y="105" width="4" height="1" fill="#fff" />
<rect x="588" y="110" width="4" height="1" fill="#fff" />
<rect x="589" y="112" width="2" height="1" fill="#fff" />
<rect x="588" y="114" width="4" height="1" fill="#fff" />
<rect x="530.4" y="140.4" width="26.6" height="13.4" rx="3" fill="#fff" stroke="#000" stroke-width="2" shape-rendering="geometricPrecision"/>
<text x="532.1" y="151.5" font-size="11" fill="#000" text-anchor="start" textLength="21.6" lengthAdjust="spacingAndGlyphs" stroke="#000" stroke-width="0.1" >USB</text>
<path d="M556.6,143.5 L561.1,146.45 L561.1,148.05 L556.6,151.0 Z" fill="#fff" stroke="#000" stroke-width="1.3" shape-rendering="geometricPrecision" stroke-linejoin="round"/>
<rect x="555" y="144.65" width="2.8" height="5.2" fill="#fff" shape-rendering="geometricPrecision"/>
<path d="M560.3000000000001,147.25 L569,146.6" fill="none" stroke="#000" stroke-width="2.6" shape-rendering="geometricPrecision"/>
<rect x="569" y="141" width="25" height="11" fill="#000" />
<rect x="571" y="142.5" width="1" height="8" fill="#fff" />
<rect x="575" y="142.5" width="1" height="8" fill="#fff" />
<rect x="579" y="142.5" width="1" height="8" fill="#fff" />
<rect x="588.5" y="142.5" width="1" height="8" fill="#fff" />
<rect x="571" y="146" width="19" height="1" fill="#fff" />
<rect x="590" y="143" width="2" height="2" fill="#fff" />
<rect x="50" y="226" width="26.5" height="13" rx="2.5" fill="#fff" stroke="#000" stroke-width="2" shape-rendering="geometricPrecision"/>
<text x="52.8" y="237.5" font-size="11" fill="#000" text-anchor="start" textLength="18.5" lengthAdjust="spacingAndGlyphs" stroke="#000" stroke-width="0.1" >JC1</text>
<path d="M76,228.5 L81,231.7 L81,233.3 L76,236.5 Z" fill="#fff" stroke="#000" stroke-width="1.3" shape-rendering="geometricPrecision" stroke-linejoin="round"/>
<rect x="74.4" y="229.9" width="2.8" height="5.2" fill="#fff" shape-rendering="geometricPrecision"/>
<path d="M80.2,232.5 L90.5,232.5" fill="none" stroke="#000" stroke-width="2.9" shape-rendering="geometricPrecision"/>
<rect x="90" y="227" width="5" height="11" fill="#000" />
<rect x="91" y="229" width="3" height="1" fill="#fff" />
<rect x="91" y="232" width="3" height="1" fill="#fff" />
<text x="463.6" y="41.9" font-size="8" fill="#000" text-anchor="start" font-weight="bold" letter-spacing="1.05">35104</text>
<ellipse cx="322.8" cy="463.2" rx="102" ry="40.1" fill="none" stroke="#000" stroke-width="1" shape-rendering="geometricPrecision"/>
<rect x="258.2" y="452" width="26.4" height="12.8" rx="2.5" fill="#fff" stroke="#000" stroke-width="2" shape-rendering="geometricPrecision"/>
<text x="261.8" y="465" font-size="11" fill="#000" text-anchor="start" textLength="20.1" lengthAdjust="spacingAndGlyphs" stroke="#000" stroke-width="0.1" >FAN</text>
<path d="M284.2,454.5 L289.2,457.7 L289.2,459.3 L284.2,462.5 Z" fill="#fff" stroke="#000" stroke-width="1.3" shape-rendering="geometricPrecision" stroke-linejoin="round"/>
<rect x="282.6" y="455.9" width="2.8" height="5.2" fill="#fff" shape-rendering="geometricPrecision"/>
<path d="M288.4,458.5 L297,458.8" fill="none" stroke="#000" stroke-width="2.9" shape-rendering="geometricPrecision"/>
<rect x="297" y="456" width="16" height="6" fill="#000" />
<rect x="299" y="457.5" width="1" height="3" fill="#fff" />
<rect x="307" y="457.5" width="1" height="3" fill="#fff" />
<rect x="359" y="453" width="19" height="12.5" rx="1.5" fill="#fff" stroke="#000" stroke-width="2" shape-rendering="geometricPrecision"/>
<text x="362.1" y="465" font-size="11" fill="#000" text-anchor="start" textLength="11.1" lengthAdjust="spacingAndGlyphs" stroke="#000" stroke-width="0.1" >IR</text>
<path d="M359.2,456.4 L351,458.4 L347.5,458.9 L347.5,460.1 L351,460.4 L359.2,462.6" fill="#fff" stroke="#000" stroke-width="1.2" shape-rendering="geometricPrecision"/>
<rect x="357.4" y="457.4" width="2.8" height="4.2" fill="#fff" shape-rendering="geometricPrecision"/>
<rect x="322" y="457" width="25" height="5" fill="#000" />
<rect x="327" y="458" width="1" height="3" fill="#fff" />
<rect x="331.5" y="458" width="1" height="3" fill="#fff" />
<rect x="336.5" y="458" width="1" height="3" fill="#fff" />
<rect x="341" y="458" width="1" height="3" fill="#fff" />
<rect x="345.5" y="458" width="1" height="3" fill="#fff" />
<text y="483.1" font-size="11" fill="#000" stroke="#000" stroke-width="0.1"><tspan x="254.2" textLength="54.6" lengthAdjust="spacing">LOCATION</tspan> <tspan x="313.2" textLength="73.8" lengthAdjust="spacing">UNIDENTIFIED</tspan></text>
</svg>
</body></html>
